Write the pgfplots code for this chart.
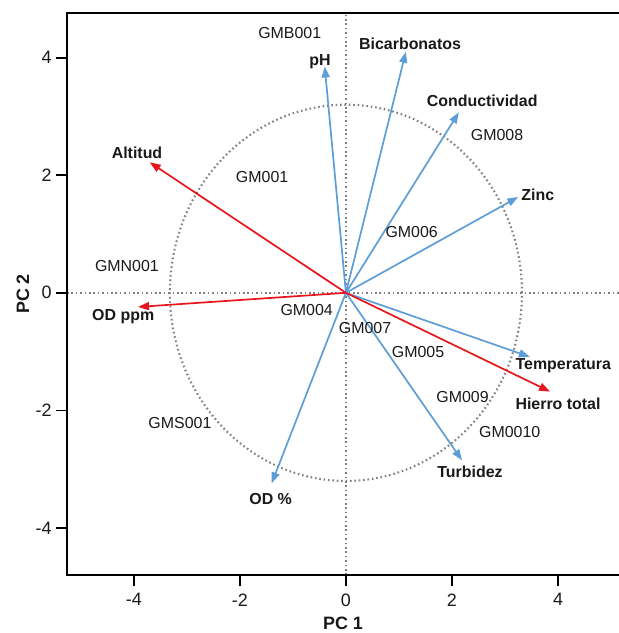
\documentclass[border=0pt]{standalone}
\usepackage{pgfplots}
\pgfplotsset{compat=1.18}
\usepackage{fontspec}
\setmainfont{Liberation Sans}
\usetikzlibrary{arrows.meta}

\definecolor{redarrow}{RGB}{232,22,28}
\definecolor{bluearrow}{RGB}{94,158,214}
\definecolor{dotgray}{RGB}{128,128,128}

\tikzset{
  dotline/.style={dotgray, line width=2.1bp, dash pattern=on 1.6bp off 2.8bp},
  var/.style={font=\fontsize{16}{18}\selectfont\bfseries, text=black!90},
  obs/.style={font=\fontsize{16}{18}\selectfont, text=black!90},
  redarr/.style={redarrow, line width=1.7bp, -{Triangle[length=11bp,width=8bp]}},
  bluearr/.style={bluearrow, line width=1.7bp, -{Triangle[length=11bp,width=8bp]}},
}

\begin{document}
\begin{tikzpicture}
\begin{axis}[
  scale only axis, width=552bp, height=562bp,
  xmin=-5.26, xmax=5.15, ymin=-4.80, ymax=4.76,
  axis line style={draw=none},
  xtick={-4,-2,0,2,4}, ytick={-4,-2,0,2,4},
  xtick pos=bottom, ytick pos=left, tick align=outside,
  major tick length=11bp,
  tick style={line width=1.7bp, black},
  ticklabel style={font=\fontsize{18}{20}\selectfont, text=black!90},
  xticklabel style={yshift=-4bp},
  yticklabel style={xshift=-1bp},
  /pgf/number format/assume math mode=true,
  xlabel={PC 1}, ylabel={PC 2},
  label style={font=\fontsize{18}{20}\selectfont\bfseries, text=black!90},
  xlabel style={at={(axis description cs:0.5,0)}, anchor=center, yshift=-48bp},
  ylabel style={at={(axis description cs:0,0.5)}, anchor=center, yshift=44bp},
  clip=false,
]
% reference lines and circle
\draw[dotline] (axis cs:0,-4.80) -- (axis cs:0,4.76);
\draw[dotline] (axis cs:-5.26,0) -- (axis cs:5.15,0);
\draw[dotline] (axis cs:0,0) ellipse [x radius=3.32, y radius=3.2];

% blue loadings
\addplot[bluearr] coordinates {(0,0) (-0.40,3.85)};
\addplot[bluearr] coordinates {(0,0) (1.13,4.10)};
\addplot[bluearr] coordinates {(0,0) (2.13,3.07)};
\addplot[bluearr] coordinates {(0,0) (3.25,1.63)};
\addplot[bluearr] coordinates {(0,0) (3.47,-1.09)};
\addplot[bluearr] coordinates {(0,0) (2.19,-2.85)};
\addplot[bluearr] coordinates {(0,0) (-1.40,-3.24)};
% red loadings
\addplot[redarr] coordinates {(0,0) (-3.70,2.22)};
\addplot[redarr] coordinates {(0,0) (-3.92,-0.24)};
\addplot[redarr] coordinates {(0,0) (3.85,-1.68)};

% variable labels
\node[var] at (axis cs:-3.94,2.39) {Altitud};
\node[var] at (axis cs:-4.20,-0.40) {OD ppm};
\node[var] at (axis cs:4.00,-1.88) {Hierro total};
\node[var] at (axis cs:-0.49,3.93) {pH};
\node[var] at (axis cs:1.21,4.23) {Bicarbonatos};
\node[var] at (axis cs:2.57,3.26) {Conductividad};
\node[var] at (axis cs:3.62,1.66) {Zinc};
\node[var] at (axis cs:4.10,-1.24) {Temperatura};
\node[var] at (axis cs:2.34,-3.05) {Turbidez};
\node[var] at (axis cs:-1.42,-3.50) {OD \%};

% observation labels
\node[obs] at (axis cs:-1.06,4.42) {GMB001};
\node[obs] at (axis cs:-1.58,1.97) {GM001};
\node[obs] at (axis cs:-4.13,0.46) {GMN001};
\node[obs] at (axis cs:-0.74,-0.30) {GM004};
\node[obs] at (axis cs:0.36,-0.60) {GM007};
\node[obs] at (axis cs:1.36,-1.01) {GM005};
\node[obs] at (axis cs:2.20,-1.77) {GM009};
\node[obs] at (axis cs:3.09,-2.37) {GM0010};
\node[obs] at (axis cs:-3.13,-2.22) {GMS001};
\node[obs] at (axis cs:1.24,1.03) {GM006};
\node[obs] at (axis cs:2.85,2.68) {GM008};

% axis frame (no right side)
\draw[line width=1.7bp, black] (rel axis cs:1,1) -- (rel axis cs:0,1) -- (rel axis cs:0,0) -- (rel axis cs:1,0);
\coordinate (sw) at (rel axis cs:0,0);
\coordinate (ne) at (rel axis cs:1,1);
\end{axis}
\pgfresetboundingbox
\path[use as bounding box] ([shift={(-67bp,-58bp)}]sw) rectangle ([shift={(0bp,13bp)}]ne);
\end{tikzpicture}
\end{document}
